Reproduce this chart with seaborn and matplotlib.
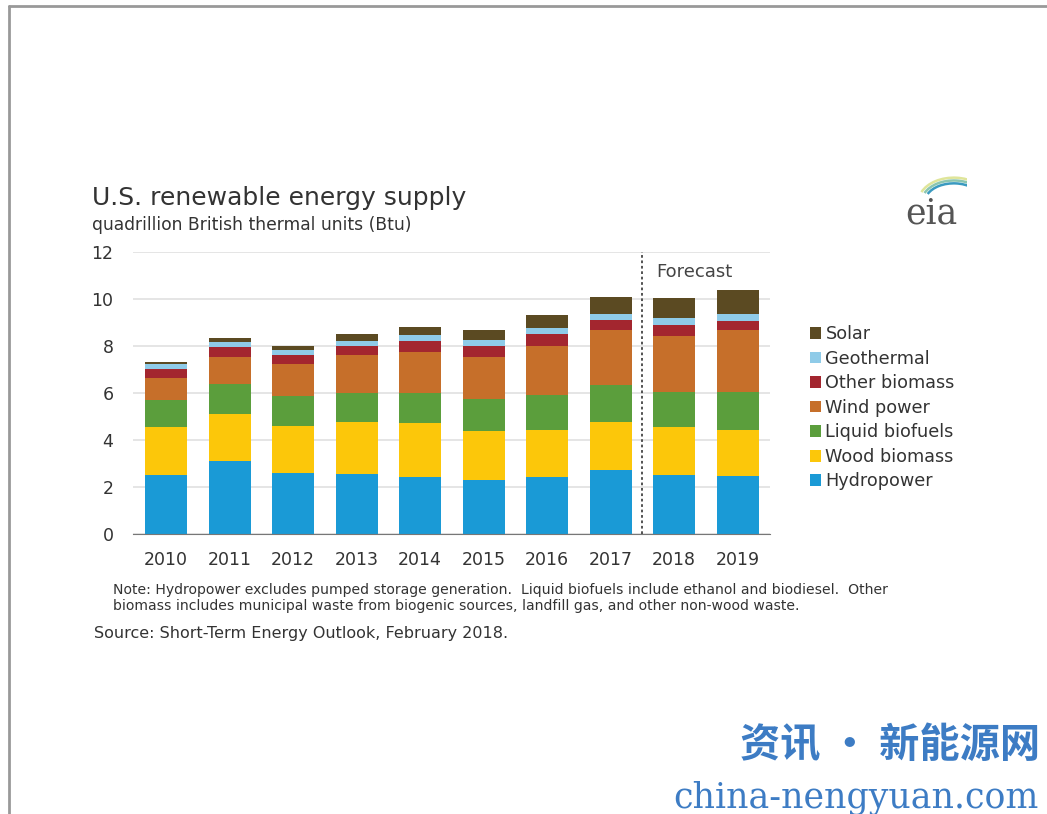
import matplotlib
matplotlib.use("Agg")
import matplotlib.pyplot as plt
import numpy as np
import pandas as pd
import seaborn as sns
from matplotlib.lines import Line2D
from matplotlib.patches import Arc, Patch

# 数据 (quadrillion Btu)
years = ["2010", "2011", "2012", "2013", "2014", "2015", "2016", "2017", "2018", "2019"]
hydropower = [2.52, 3.09, 2.60, 2.55, 2.43, 2.28, 2.43, 2.74, 2.52, 2.45]
wood_biomass = [2.03, 2.02, 2.02, 2.20, 2.29, 2.09, 2.01, 2.05, 2.02, 1.99]
liquid_biofuels = [1.14, 1.29, 1.24, 1.25, 1.28, 1.37, 1.49, 1.56, 1.49, 1.59]
wind_power = [0.95, 1.16, 1.37, 1.63, 1.77, 1.82, 2.08, 2.32, 2.42, 2.64]
other_biomass = [0.38, 0.40, 0.40, 0.38, 0.47, 0.43, 0.50, 0.45, 0.46, 0.42]
geothermal = [0.21, 0.23, 0.22, 0.22, 0.24, 0.26, 0.26, 0.26, 0.28, 0.29]
solar = [0.10, 0.15, 0.16, 0.27, 0.34, 0.45, 0.56, 0.73, 0.85, 1.02]

sources = ["Hydropower", "Wood biomass", "Liquid biofuels", "Wind power",
           "Other biomass", "Geothermal", "Solar"]
colors = ["#1a9ad6", "#fcc70a", "#5b9e3c", "#c66f2a", "#a3262f", "#8fcbe8", "#5b4a22"]

df = pd.DataFrame({
    "year": years,
    "Hydropower": hydropower,
    "Wood biomass": wood_biomass,
    "Liquid biofuels": liquid_biofuels,
    "Wind power": wind_power,
    "Other biomass": other_biomass,
    "Geothermal": geothermal,
    "Solar": solar,
})
cum = df[sources].cumsum(axis=1)
cum["year"] = df["year"]

sns.set_style("white")
plt.rcParams['font.family'] = ['DejaVu Sans']

fig = plt.figure(figsize=(10.47, 8.14), dpi=100)
ax = fig.add_axes([0.127, 0.344, 0.608, 0.346])

# 堆叠柱状图: draw cumulative totals from top layer down
for name, col in zip(sources[::-1], colors[::-1]):
    sns.barplot(data=cum, x="year", y=name, color=col, width=0.66,
                saturation=1, ax=ax, errorbar=None, linewidth=0)

ax.set_xlim(-0.52, 9.49)
ax.set_ylim(0, 12)
ax.set_yticks(range(0, 13, 2))
ax.yaxis.grid(True, color="#e0e0e0", linewidth=1.2)
ax.set_axisbelow(True)
for s in ["top", "right", "left"]:
    ax.spines[s].set_visible(False)
ax.spines["bottom"].set_color("#777777")
ax.set_xlabel("")
ax.set_ylabel("")
ax.tick_params(axis="x", which="major", length=0, labelsize=12.5, colors="#333333", pad=12)
ax.tick_params(axis="y", which="major", length=0, labelsize=12.5, colors="#333333", pad=14)
ax.set_xticks(np.arange(-0.5, 10, 1), minor=True)
ax.tick_params(axis="x", which="minor", length=4, color="#777777")

# forecast divider
ax.axvline(7.5, color="#444444", linestyle=(0, (1.5, 1.5)), linewidth=1.3)
ax.text(7.72, 11.15, "Forecast", fontsize=13, color="#444444", va="center")

# legend
handles = [Patch(facecolor=c, edgecolor="none") for c in colors[::-1]]
fig.legend(handles, sources[::-1], loc="upper left", bbox_to_anchor=(0.758, 0.62),
           frameon=False, fontsize=12.7, handlelength=0.65, handleheight=0.65,
           handletextpad=0.25, labelspacing=0.37, labelcolor="#333333")

# titles
fig.text(0.088, 0.757, "U.S. renewable energy supply", fontsize=18, color="#333333", va="center")
fig.text(0.088, 0.723, "quadrillion British thermal units (Btu)", fontsize=12.3, color="#333333", va="center")

# notes
fig.text(0.108, 0.275, "Note: Hydropower excludes pumped storage generation.  Liquid biofuels include ethanol and biodiesel.  Other",
         fontsize=10.1, color="#333333", va="center")
fig.text(0.108, 0.256, "biomass includes municipal waste from biogenic sources, landfill gas, and other non-wood waste.",
         fontsize=10.1, color="#333333", va="center")
fig.text(0.090, 0.222, "Source: Short-Term Energy Outlook, February 2018.", fontsize=11.5, color="#333333", va="center")

# eia logo
fig.text(0.865, 0.738, "eia", fontsize=25, family="DejaVu Serif", color="#555555", va="center")
lax = fig.add_axes([0.872, 0.752, 0.052, 0.035])
lax.set_xlim(0, 1)
lax.set_ylim(0, 1)
lax.axis("off")
for i, c in enumerate(["#dfe59a", "#8cc6b0", "#3a9ac0"]):
    lax.add_patch(Arc((0.75, 0.0), 1.3 - i * 0.12, 1.7 - i * 0.2, theta1=20, theta2=150,
                      color=c, linewidth=1.8))

# watermark
fig.text(0.993, 0.085, "资讯 · 新能源网", fontsize=29, fontweight="bold", color="#3d7cc4",
         ha="right", va="center", family=["Noto Sans CJK SC", "DejaVu Sans"])
fig.text(0.992, 0.02, "china-nengyuan.com", fontsize=25, color="#3d7cc4",
         ha="right", va="center", family="DejaVu Serif")

# border
fig.add_artist(Line2D([0.009, 0.009], [0.0, 0.993], color="#999999", linewidth=2))
fig.add_artist(Line2D([0.009, 1.0], [0.993, 0.993], color="#999999", linewidth=2))

fig.savefig("out.png", dpi=100)
